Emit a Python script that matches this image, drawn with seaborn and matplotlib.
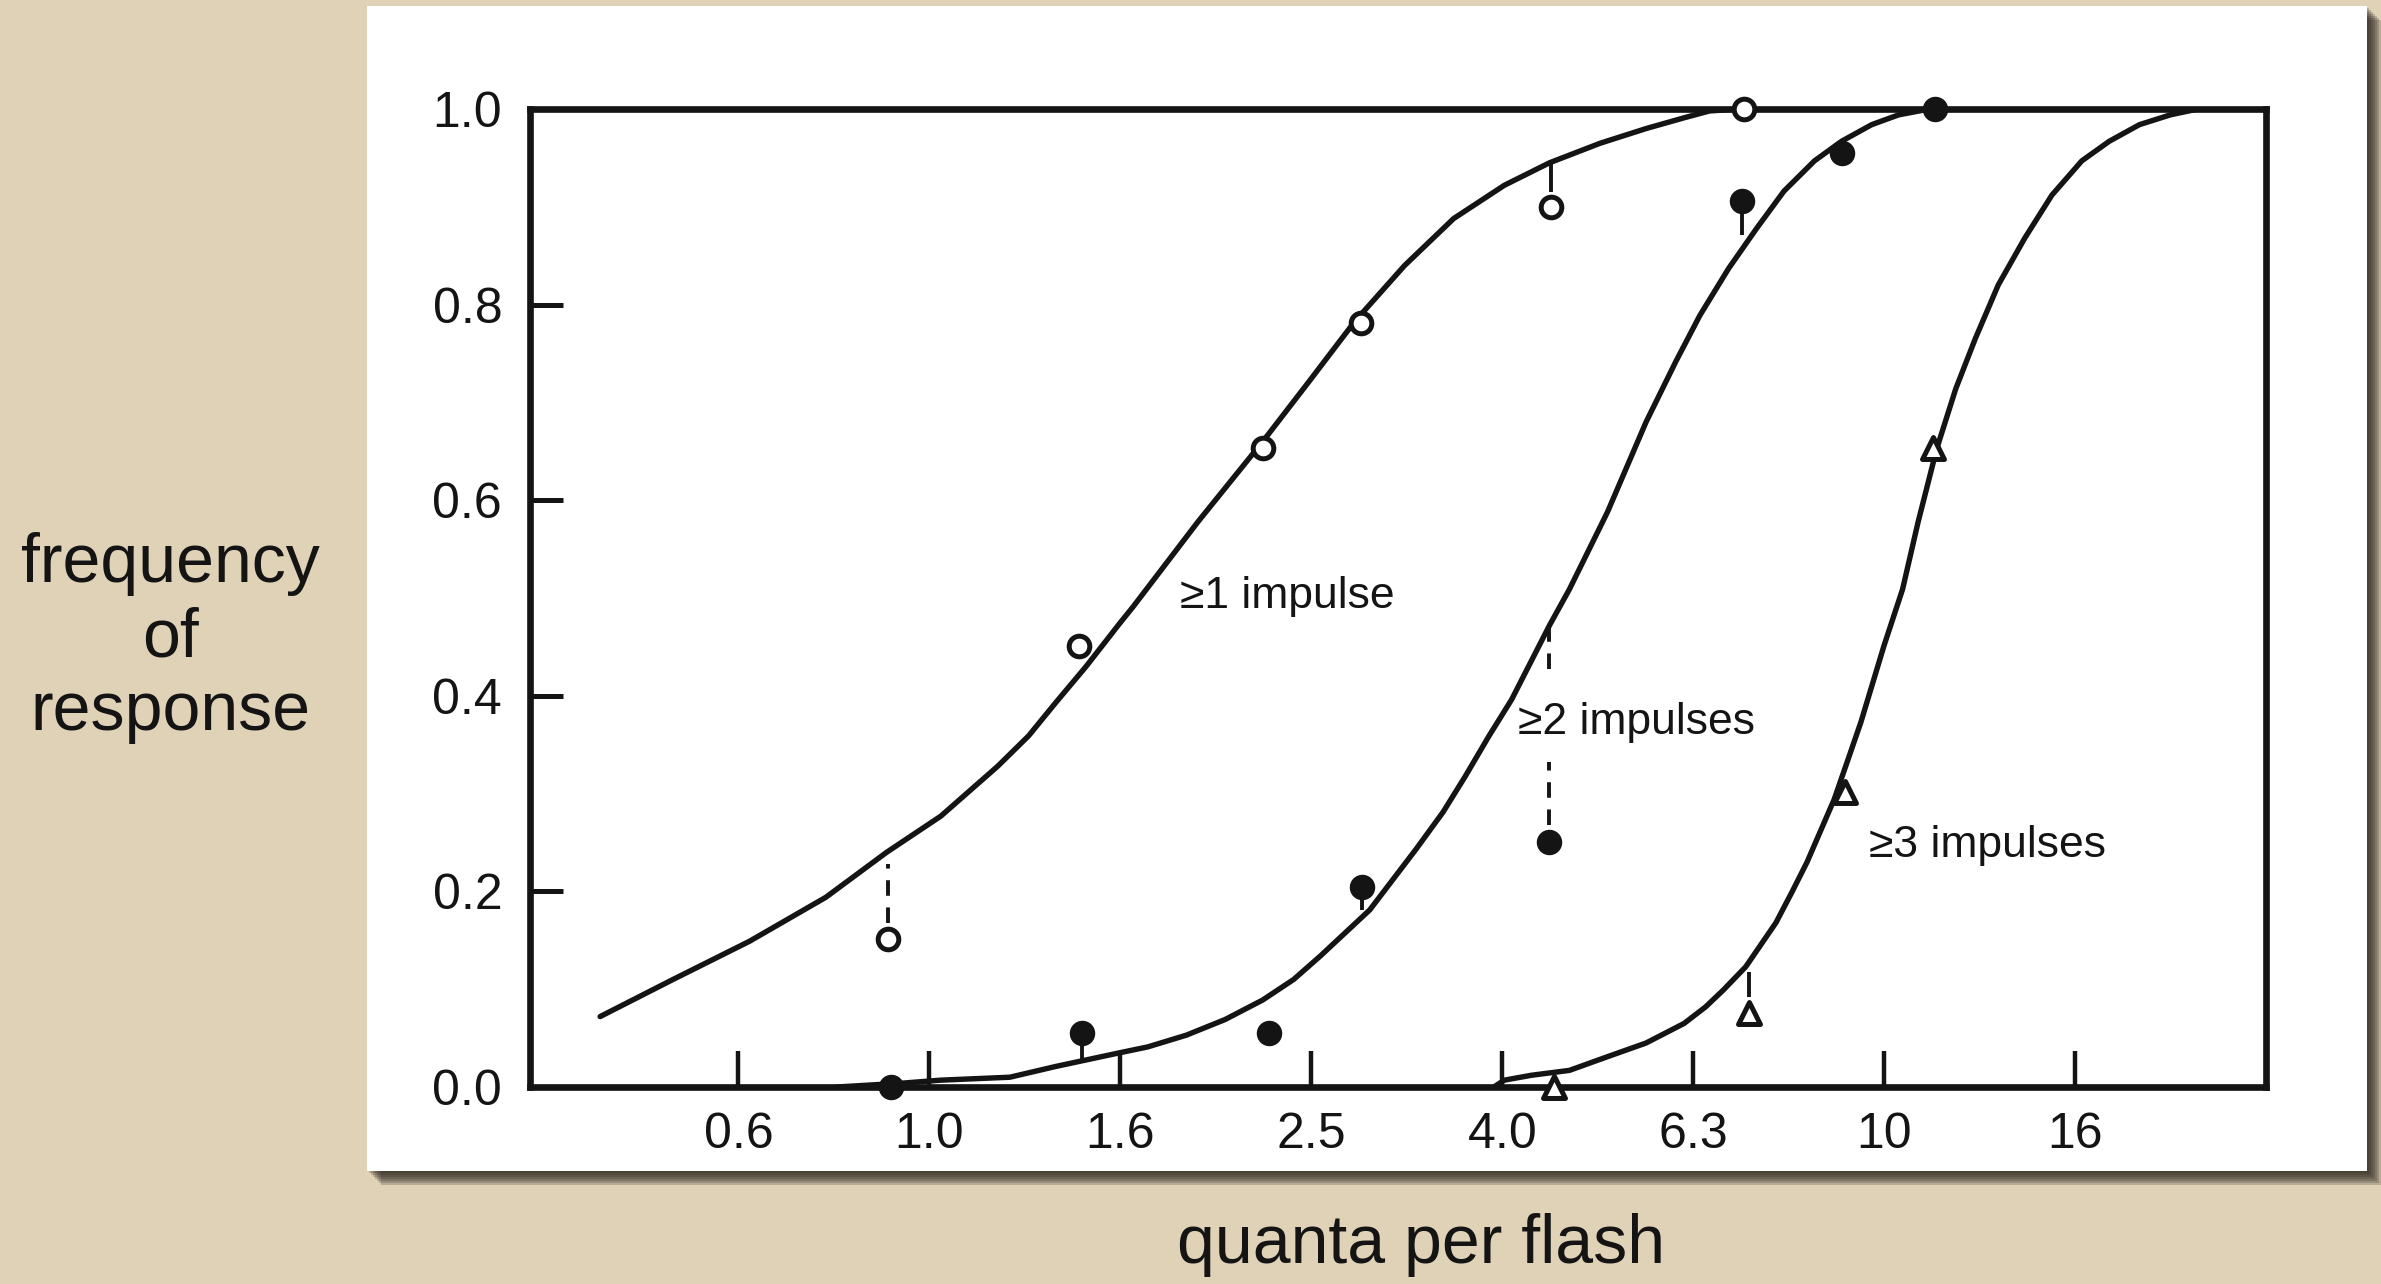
import numpy as np
import pandas as pd
import seaborn as sns
import matplotlib.pyplot as plt
from matplotlib.patches import Rectangle

# ---- data ----
# fitted curves (quanta per flash, frequency of response)
c1_x = [0.452, 0.539, 0.648, 0.779, 0.902, 1.028, 1.179, 1.27, 1.356, 1.459, 1.582, 1.634,
        1.911, 2.234, 2.496, 2.79, 3.145, 3.54, 4.0, 4.46, 5.04, 5.63, 6.17, 6.56, 7.05]
c1_y = [0.072, 0.110, 0.149, 0.194, 0.240, 0.277, 0.328, 0.359, 0.393, 0.430, 0.474, 0.491,
        0.578, 0.660, 0.721, 0.783, 0.840, 0.888, 0.922, 0.945, 0.965, 0.980, 0.991, 0.998, 1.0]

c2_x = [0.80, 0.938, 1.028, 1.214, 1.356, 1.582, 1.693, 1.858, 2.04, 2.234, 2.407, 2.567,
        2.891, 3.232, 3.45, 3.642, 3.855, 4.07, 4.46, 4.68, 5.13, 5.63, 6.05, 6.41, 6.87,
        7.35, 7.85, 8.45, 9.02, 9.70, 10.35, 11.15]
c2_y = [0.0, 0.004, 0.007, 0.010, 0.021, 0.035, 0.041, 0.053, 0.069, 0.089, 0.110, 0.134,
        0.181, 0.243, 0.281, 0.318, 0.359, 0.396, 0.472, 0.509, 0.588, 0.680, 0.742, 0.789,
        0.837, 0.878, 0.916, 0.947, 0.967, 0.984, 0.994, 1.0]

c3_x = [3.9, 4.0, 4.27, 4.68, 5.13, 5.63, 6.17, 6.5, 6.78, 7.16, 7.70, 8.0, 8.30, 8.86,
        9.14, 9.45, 9.99, 10.45, 10.85, 11.35, 11.88, 12.45, 13.16, 14.03, 14.98, 16.1,
        17.2, 18.5, 19.93, 21.3]
c3_y = [0.0, 0.007, 0.012, 0.017, 0.031, 0.045, 0.065, 0.082, 0.099, 0.123, 0.168, 0.199,
        0.230, 0.294, 0.332, 0.373, 0.451, 0.509, 0.578, 0.653, 0.714, 0.765, 0.820, 0.868,
        0.912, 0.947, 0.967, 0.984, 0.994, 1.0]

# observed points
open_x = [0.906, 1.435, 2.234, 2.83, 4.48, 7.13]
open_y = [0.151, 0.451, 0.653, 0.781, 0.90, 1.0]
filled_x = [0.911, 1.444, 2.268, 2.84, 4.46, 7.10, 9.02, 11.3]
filled_y = [0.0, 0.055, 0.055, 0.205, 0.251, 0.906, 0.955, 1.0]
tri_x = [4.51, 7.21, 9.09, 11.25]
tri_y = [0.0, 0.076, 0.302, 0.653]

# connectors between a point and its curve
dash_x = [0.906, 4.46, 4.46]
dash_y0 = [0.168, 0.268, 0.427]
dash_y1 = [0.228, 0.332, 0.472]
tail_x = [4.48, 1.444, 2.84, 7.10, 7.21]
tail_y0 = [0.915, 0.025, 0.181, 0.871, 0.092]
tail_y1 = [0.945, 0.045, 0.195, 0.895, 0.118]

tick_vals = [0.631, 1.0, 1.585, 2.512, 3.981, 6.310, 10.0, 15.85]
tick_labels = ["0.6", "1.0", "1.6", "2.5", "4.0", "6.3", "10", "16"]
ytick_vals = [0.0, 0.2, 0.4, 0.6, 0.8, 1.0]

labels = [("≥1 impulse", 1.83, 0.502), ("≥2 impulses", 4.13, 0.373),
          ("≥3 impulses", 9.63, 0.247)]

# ---- style ----
sns.set_style("white")
plt.rcParams["font.family"] = ["Liberation Sans", "DejaVu Sans"]
INK = "#141414"
BG = "#dfd2b6"

fig = plt.figure(figsize=(23.81, 12.84), dpi=100, facecolor=BG)

# white panel with a dark soft shadow (bottom / right)
px0, px1, py0, py1 = 367 / 2381, 2367 / 2381, 1 - 1171 / 1284, 1 - 6 / 1284
for k in range(7):
    off = (k + 1) * 2.0
    fig.patches.append(Rectangle((px0 + off / 2381, py0 - off / 1284), px1 - px0, py1 - py0,
                                 transform=fig.transFigure, facecolor="#2a241e",
                                 alpha=0.22, edgecolor="none", zorder=0))
fig.patches.append(Rectangle((px0, py0), px1 - px0, py1 - py0, transform=fig.transFigure,
                             facecolor="white", edgecolor="none", zorder=1))

ax = fig.add_axes([530 / 2381, 1 - 1087 / 1284, (2266 - 530) / 2381, (1087 - 109) / 1284])
ax.set_facecolor("none")
ax.set_zorder(2)

curves = pd.concat([
    pd.DataFrame({"x": c1_x, "y": c1_y, "curve": "1"}),
    pd.DataFrame({"x": c2_x, "y": c2_y, "curve": "2"}),
    pd.DataFrame({"x": c3_x, "y": c3_y, "curve": "3"}),
])
sns.lineplot(data=curves, x="x", y="y", units="curve", estimator=None, sort=False,
             color=INK, lw=3.9, ax=ax, zorder=3)

ax.vlines(dash_x, dash_y0, dash_y1, colors=INK, lw=2.8, linestyles=(0, (4, 3)), zorder=3)
ax.vlines(tail_x, tail_y0, tail_y1, colors=INK, lw=2.8, zorder=3)

sns.scatterplot(x=open_x, y=open_y, marker="o", s=220, facecolor="white", edgecolor=INK,
                linewidth=3.6, ax=ax, zorder=4, clip_on=False)
sns.scatterplot(x=filled_x, y=filled_y, marker="o", s=300, color=INK, edgecolor=INK,
                linewidth=1, ax=ax, zorder=4, clip_on=False)
sns.scatterplot(x=tri_x, y=tri_y, marker="^", s=250, facecolor="white", edgecolor=INK,
                linewidth=3.6, ax=ax, zorder=4, clip_on=False)

for txt, lx, ly in labels:
    ax.text(lx, ly, txt, ha="left", va="center", fontsize=32, color=INK)

ax.set_xscale("log")
ax.set_xlim(0.3817, 25.1)
ax.set_ylim(0, 1.0)
ax.set_xticks(tick_vals)
ax.set_xticklabels(tick_labels)
ax.xaxis.set_minor_locator(plt.NullLocator())
ax.set_yticks(ytick_vals)
ax.set_yticklabels([f"{v:.1f}" for v in ytick_vals])
ax.tick_params(axis="x", bottom=True, direction="in", length=26, width=3.2, pad=18,
               labelsize=36, colors=INK)
ax.tick_params(axis="y", left=True, direction="in", length=24, width=3.6, pad=20,
               labelsize=36, colors=INK)
for s in ax.spines.values():
    s.set_visible(True)
    s.set_linewidth(4.8)
    s.set_color(INK)
ax.set_xlabel("")
ax.set_ylabel("")

fig.text(0.0714, 0.503, "frequency\nof\nresponse", ha="center", va="center",
         fontsize=49, color=INK, linespacing=1.2)
fig.text(0.5968, 0.0304, "quanta per flash", ha="center", va="center", fontsize=49,
         color=INK)

fig.savefig("out.png", dpi=100, facecolor=BG)
